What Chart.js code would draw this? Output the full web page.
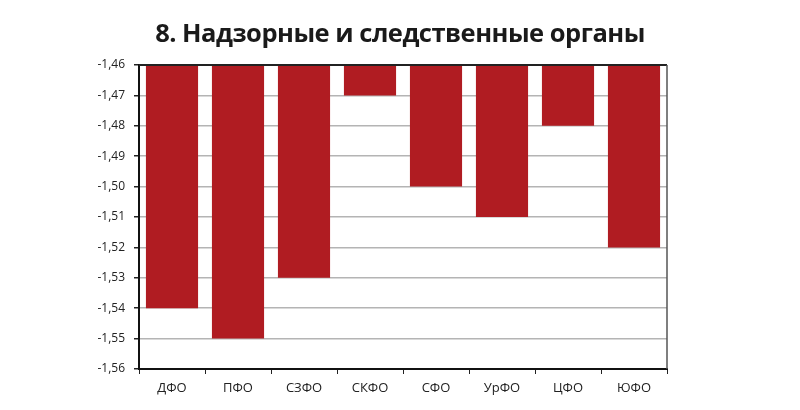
<!DOCTYPE html>
<html>
<head>
<meta charset="utf-8">
<script src="https://cdn.jsdelivr.net/npm/chart.js@4"></script>
<style>
    body { margin: 0; background: #fff; }
    #wrap { position: relative; width: 800px; height: 410px; }
    #title {
        position: absolute; left: 0; top: 15px; width: 800px; text-align: center;
        font-family: 'Open Sans', sans-serif; font-weight: 700; font-size: 25.5px;
        color: #1a1a1a; letter-spacing: -0.5px;
    }
</style>
</head>
<body>
<div id="wrap">
    <div id="title">8. Надзорные и следственные органы</div>
    <canvas id="chart" width="800" height="410"></canvas>
</div>
<script>
// Districts and values
const districts = ['ДФО', 'ПФО', 'СЗФО', 'СКФО', 'СФО', 'УрФО', 'ЦФО', 'ЮФО'];
const values = [-1.54, -1.55, -1.53, -1.47, -1.50, -1.51, -1.48, -1.52];
const yMin = -1.56;
const yMax = -1.46;
const yStep = 0.01;

// Top and right frame lines round the plot area
const framePlugin = {
    id: 'frame',
    afterDraw(chart) {
        const { ctx, chartArea: a } = chart;
        ctx.save();
        ctx.strokeStyle = '#222';
        ctx.lineWidth = 2;
        ctx.beginPath();
        ctx.moveTo(a.left, a.top);
        ctx.lineTo(a.right, a.top);
        ctx.stroke();
        ctx.strokeStyle = '#555';
        ctx.lineWidth = 1.5;
        ctx.beginPath();
        ctx.moveTo(a.right, a.top);
        ctx.lineTo(a.right, a.bottom);
        ctx.stroke();
        ctx.restore();
    }
};

new Chart(document.getElementById('chart'), {
    type: 'bar',
    data: {
        labels: districts,
        datasets: [{
            data: values,
            backgroundColor: '#b01c22',
            borderWidth: 0,
            categoryPercentage: 0.79,
            barPercentage: 1.0
        }]
    },
    options: {
        responsive: false,
        animation: false,
        layout: { padding: { left: 79, right: 133, top: 65, bottom: 0 } },
        plugins: {
            legend: { display: false },
            tooltip: { enabled: false }
        },
        scales: {
            x: {
                afterFit: s => { s.height = 41; },
                grid: {
                    offset: true,
                    drawOnChartArea: false,
                    tickLength: 5,
                    tickColor: '#222'
                },
                border: { color: '#111', width: 2 },
                ticks: {
                    color: '#222',
                    padding: 6,
                    font: { family: 'Open Sans', size: 13 }
                }
            },
            y: {
                min: yMin,
                max: yMax,
                afterFit: s => { s.width = 60; },
                grid: {
                    color: '#b4b4b4',
                    lineWidth: 1.5,
                    tickLength: 5,
                    tickColor: '#222'
                },
                border: { color: '#111', width: 2 },
                ticks: {
                    stepSize: yStep,
                    color: '#222',
                    padding: 9,
                    font: { family: 'Open Sans', size: 12 },
                    callback: v => v.toFixed(2).replace('.', ',')
                }
            }
        }
    },
    plugins: [framePlugin]
});
</script>
</body>
</html>
